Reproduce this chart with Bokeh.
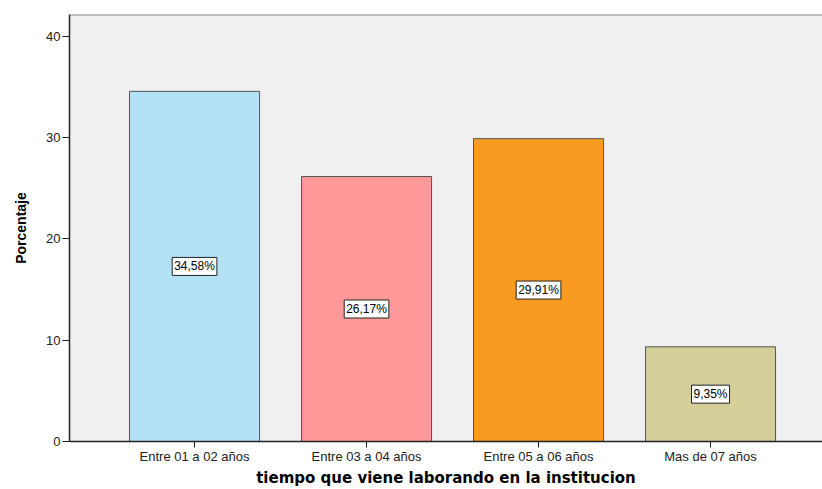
from bokeh.plotting import figure
from bokeh.models import Span, FixedTicker, Range1d, Label, ColumnDataSource
from bokeh.embed import file_html
from bokeh.resources import INLINE

categories = ["Entre 01 a 02 años", "Entre 03 a 04 años", "Entre 05 a 06 años", "Mas de 07 años"]
values = [34.58, 26.17, 29.91, 9.35]
labels = ["34,58%", "26,17%", "29,91%", "9,35%"]
colors = ["#b3e2f7", "#ff9999", "#f99b20", "#d4cf99"]
y_ticks = [0, 10, 20, 30, 40]

pos = list(range(len(categories)))
src = ColumnDataSource(dict(x=pos, val=values, col=colors))

p = figure(x_range=Range1d(-0.727, 3.651), y_range=Range1d(0, 42.17),
           width=822, height=489, output_backend="svg", toolbar_location=None,
           min_border_left=69, min_border_right=0, min_border_top=14, min_border_bottom=47)

p.vbar(x="x", top="val", width=0.756, source=src, fill_color="col",
       line_color="#555555", line_width=1)

for i, v, t in zip(pos, values, labels):
    p.add_layout(Label(x=i, y=v / 2, text=t, text_align="center", text_baseline="middle",
                       text_font="Liberation Sans", text_font_size="12px", text_color="black",
                       background_fill_color="white", border_line_color="#222222",
                       border_line_width=1, padding=2))

p.background_fill_color = "#f0f0f0"
p.border_fill_color = "white"
p.outline_line_color = None
p.grid.visible = False
p.add_layout(Span(location=42.17, dimension="width", line_color="#8a8a8a", line_width=2))

p.xaxis.ticker = FixedTicker(ticks=pos)
p.xaxis.major_label_overrides = {i: c for i, c in zip(pos, categories)}
p.xaxis.minor_tick_line_color = None
p.yaxis.ticker = FixedTicker(ticks=y_ticks)
p.yaxis.minor_tick_line_color = None
p.yaxis.major_tick_out = 7
p.yaxis.major_tick_in = 0
p.xaxis.major_tick_out = 6
p.xaxis.major_tick_in = 0
p.axis.axis_line_color = "#222222"
p.axis.axis_line_width = 1.5
p.axis.major_tick_line_color = "#222222"
p.axis.major_label_text_font = "Liberation Sans"
p.axis.major_label_text_color = "#222222"
p.yaxis.major_label_text_font_size = "13px"
p.xaxis.major_label_text_font_size = "13px"
p.yaxis.major_label_standoff = 2
p.xaxis.major_label_standoff = 1

p.yaxis.axis_label = "Porcentaje"
p.yaxis.axis_label_text_font = "Liberation Sans"
p.yaxis.axis_label_text_font_style = "bold"
p.yaxis.axis_label_text_font_size = "14px"
p.yaxis.axis_label_text_color = "black"
p.yaxis.axis_label_standoff = 14

p.xaxis.axis_label = "tiempo que viene laborando en la institucion"
p.xaxis.axis_label_text_font = "DejaVu Sans"
p.xaxis.axis_label_text_font_style = "bold"
p.xaxis.axis_label_text_font_size = "15px"
p.xaxis.axis_label_text_color = "black"
p.xaxis.axis_label_standoff = 2

open("out.html", "w").write(file_html(p, INLINE))
